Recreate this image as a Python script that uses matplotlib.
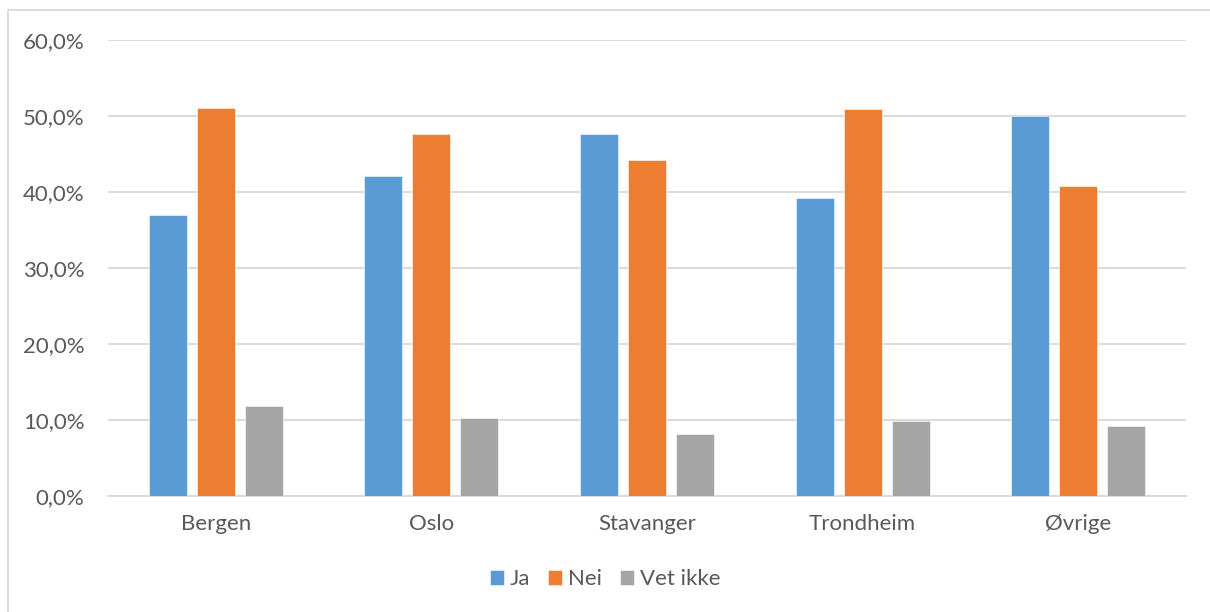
import matplotlib.pyplot as plt
from matplotlib.patches import Rectangle
from matplotlib.ticker import FuncFormatter
import numpy as np

categories = ["Bergen", "Oslo", "Stavanger", "Trondheim", "Øvrige"]
ja = [37.0, 42.1, 47.6, 39.2, 50.0]
nei = [51.1, 47.6, 44.2, 50.9, 40.75]
vet_ikke = [11.9, 10.2, 8.2, 9.9, 9.2]
series_names = ["Ja", "Nei", "Vet ikke"]
colors = ["#5B9BD5", "#ED7D31", "#A5A5A5"]

plt.rcParams['font.family'] = ['Lato', 'DejaVu Sans']
text_color = "#595959"

W, H = 1210, 612
fig = plt.figure(figsize=(W / 100, H / 100), dpi=100)
fig.patch.set_facecolor("white")

# chart border
fig.patches.append(Rectangle((8 / W, -0.01), 1.05, 1 - 10 / H + 0.01,
                             transform=fig.transFigure, fill=False,
                             edgecolor="#D9D9D9", linewidth=1.3))

ax = fig.add_axes([108 / W, 1 - 496 / H, (1186 - 108) / W, (496 - 40) / H])

x = np.arange(len(categories))
bw = 38 / 215.6
step = 48 / 215.6
for i, (vals, name, c) in enumerate(zip([ja, nei, vet_ikke], series_names, colors)):
    ax.bar(x + (i - 1) * step, vals, width=bw, color=c, label=name,
           edgecolor="white", linewidth=0.4, zorder=3)

ax.set_xlim(-0.5, len(categories) - 0.5)
ax.set_ylim(0, 60)
ax.set_yticks(np.arange(0, 61, 10))
ax.yaxis.set_major_formatter(FuncFormatter(lambda v, p: f"{v:.1f}%".replace(".", ",")))
ax.set_xticks(x)
ax.set_xticklabels(categories)
ax.grid(axis="y", color="#D9D9D9", linewidth=1.3, zorder=0)
for s in ["top", "right", "left"]:
    ax.spines[s].set_visible(False)
ax.spines["bottom"].set_color("#D9D9D9")
ax.spines["bottom"].set_linewidth(1.3)
ax.tick_params(axis="both", length=0, labelsize=16, colors=text_color)
ax.tick_params(axis="y", pad=17)
ax.tick_params(axis="x", pad=13)

leg = fig.legend(loc="center", bbox_to_anchor=(0.5, 1 - 579 / H), ncol=3,
                 frameon=False, fontsize=16, handlelength=0.65, handleheight=0.65,
                 handletextpad=0.25, columnspacing=0.8)
for t in leg.get_texts():
    t.set_color(text_color)

fig.savefig("out.png", dpi=100, facecolor="white")
